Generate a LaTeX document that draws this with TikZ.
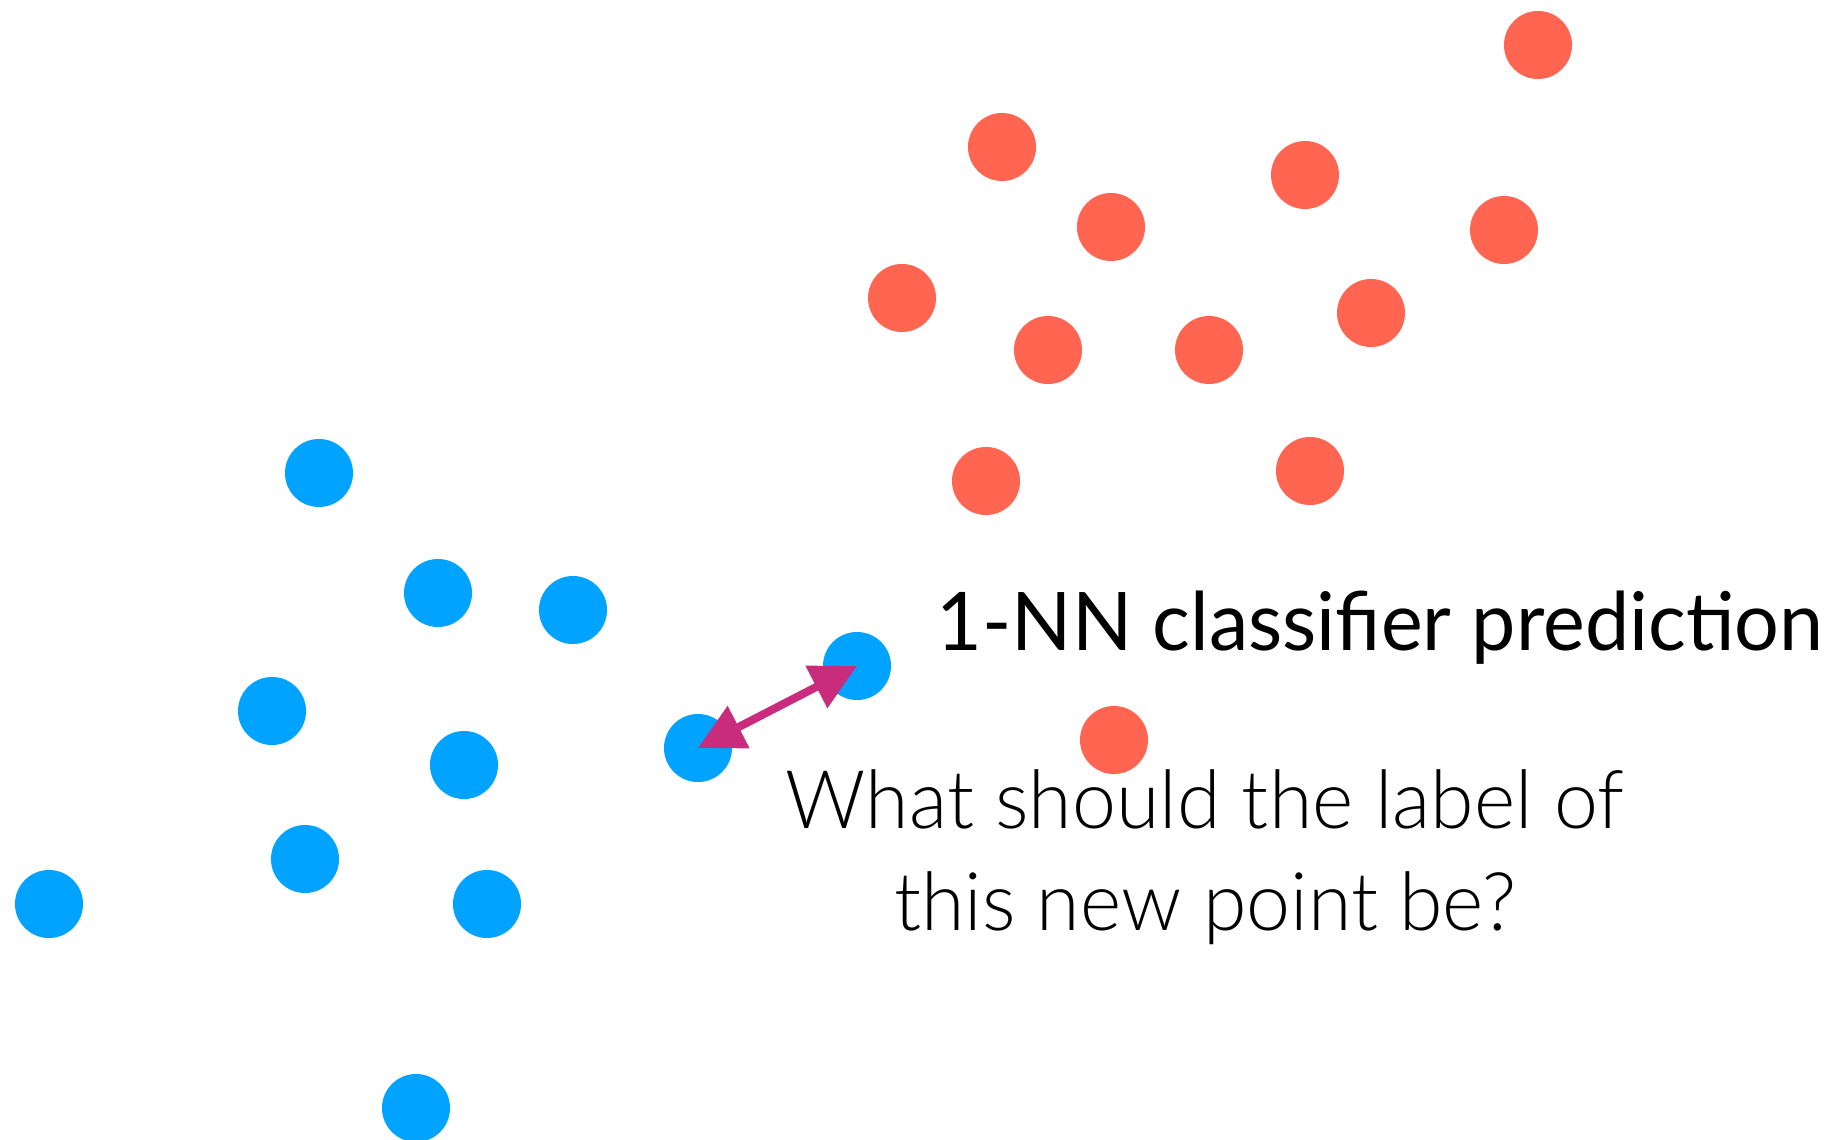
\documentclass[tikz,border=0pt]{standalone}
\usepackage{fontspec}
\setmainfont{Lato}
\newfontfamily\titlefont[FakeStretch=0.977]{Lato}
\newfontfamily\lightfont[FakeStretch=0.975]{Lato Light}
\usetikzlibrary{arrows.meta}
\definecolor{dotred}{RGB}{255,101,80}
\definecolor{dotblue}{RGB}{0,163,255}
\definecolor{arrowpink}{RGB}{201,44,124}
\begin{document}
\begin{tikzpicture}[x=0.01cm,y=-0.01cm,
    dot/.style={circle,draw=none,minimum size=0.68cm,inner sep=0pt},
    reddot/.style={dot,fill=dotred},
    bluedot/.style={dot,fill=dotblue}]
        \useasboundingbox (0,0) rectangle (1833,1140);
        %\draw[help lines] (0,0) grid[step=100] (1833,1140);
        % class red
        \node[reddot] (r1) at (1538,45) {};
        \node[reddot] (r2) at (1002,147) {};
        \node[reddot] (r3) at (1305,175) {};
        \node[reddot] (r4) at (1111,227) {};
        \node[reddot] (r5) at (1504,230) {};
        \node[reddot] (r6) at (902,298) {};
        \node[reddot] (r7) at (1371,313) {};
        \node[reddot] (r8) at (1048,350) {};
        \node[reddot] (r9) at (1209,350) {};
        \node[reddot] (r10) at (986,481) {};
        \node[reddot] (r11) at (1310,471) {};
        \node[reddot] (r12) at (1114,740) {};
        % class blue
        \node[bluedot] (b1) at (319,473) {};
        \node[bluedot] (b2) at (438,593) {};
        \node[bluedot] (b3) at (573,610) {};
        \node[bluedot] (b4) at (857,666) {};
        \node[bluedot] (b5) at (272,711) {};
        \node[bluedot] (b6) at (464,765) {};
        \node[bluedot] (new) at (698,748) {};
        \node[bluedot] (b8) at (305,859) {};
        \node[bluedot] (b9) at (49,904) {};
        \node[bluedot] (b10) at (487,904) {};
        \node[bluedot] (b11) at (416,1108) {};
        % nearest neighbour
        \draw[arrowpink,line width=2.3pt,{Triangle[length=13pt,width=13pt]}-{Triangle[length=13pt,width=13pt]}] (new.center) -- (b4.center);
        \node[anchor=base west,inner sep=0pt,font=\titlefont\fontsize{23pt}{28pt}\selectfont] (title) at (936,650) {1-NN classifier prediction};
        \node[anchor=base,align=center,inner sep=0pt,font=\lightfont\fontsize{23pt}{28.8pt}\selectfont] (question) at (1205,930) {What should the label of\\this new point be?};
    \end{tikzpicture}
\end{document}
